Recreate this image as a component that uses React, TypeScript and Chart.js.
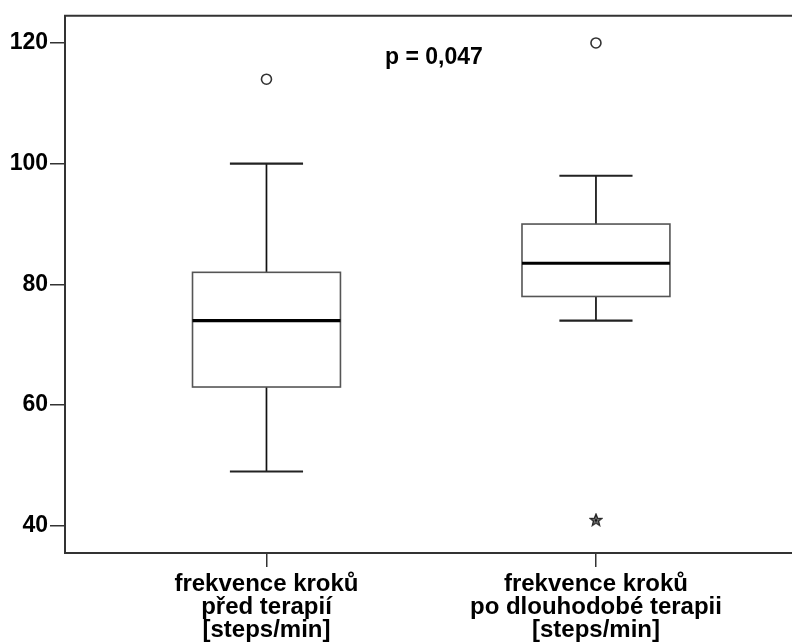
import React, { useEffect, useRef } from "react";
import { Chart, registerables } from "chart.js";

Chart.register(...registerables);

const categoryLabels: string[][] = [
  ["frekvence kroků", "před terapií", "[steps/min]"],
  ["frekvence kroků", "po dlouhodobé terapii", "[steps/min]"],
];
const categoryPositions = [1, 2];
const whiskerLow = [49, 74];
const quartile1 = [63, 78];
const medians = [74, 83.5];
const quartile3 = [82, 90];
const whiskerHigh = [100, 98];
const outlierValues = [[114], [120]];
const extremeValues: number[][] = [[], [41]];
const yTickValues = [40, 60, 80, 100, 120];
const pText = "p = 0,047";
const pPosition = { x: 1.508, y: 117.6 };

const FONT = "'Liberation Sans', Arial, sans-serif";

function makeStar(): HTMLCanvasElement {
  const c = document.createElement("canvas");
  const s = 14;
  c.width = s;
  c.height = s;
  const ctx = c.getContext("2d")!;
  const cx = s / 2, cy = s / 2 + 0.5, R = 6.2, r = 2.7;
  ctx.beginPath();
  for (let i = 0; i < 10; i++) {
    const ang = -Math.PI / 2 + (i * Math.PI) / 5;
    const rad = i % 2 === 0 ? R : r;
    const px = cx + rad * Math.cos(ang);
    const py = cy + rad * Math.sin(ang);
    if (i === 0) ctx.moveTo(px, py);
    else ctx.lineTo(px, py);
  }
  ctx.closePath();
  ctx.fillStyle = "#777";
  ctx.fill();
  ctx.strokeStyle = "#222";
  ctx.lineWidth = 1.3;
  ctx.stroke();
  ctx.fillStyle = "#111";
  ctx.beginPath();
  ctx.arc(cx, cy, 1.3, 0, Math.PI * 2);
  ctx.fill();
  return c;
}

const boxPlugin = {
  id: "boxPlugin",
  beforeDatasetsDraw(chart: any) {
    const { ctx, scales } = chart;
    const xs = scales.x, ys = scales.y;
    const unit = xs.getPixelForValue(2) - xs.getPixelForValue(1);
    const halfBox = unit * 0.2245;
    const halfCap = unit * 0.111;
    ctx.save();
    categoryPositions.forEach((pos, i) => {
      const cx = xs.getPixelForValue(pos);
      const yLo = ys.getPixelForValue(whiskerLow[i]);
      const yQ1 = ys.getPixelForValue(quartile1[i]);
      const yMed = ys.getPixelForValue(medians[i]);
      const yQ3 = ys.getPixelForValue(quartile3[i]);
      const yHi = ys.getPixelForValue(whiskerHigh[i]);
      ctx.strokeStyle = "#111";
      ctx.lineWidth = 1.7;
      ctx.beginPath();
      ctx.moveTo(cx, yQ3);
      ctx.lineTo(cx, yHi);
      ctx.moveTo(cx, yQ1);
      ctx.lineTo(cx, yLo);
      ctx.stroke();
      ctx.strokeStyle = "#222";
      ctx.lineWidth = 2.2;
      ctx.beginPath();
      ctx.moveTo(cx - halfCap, yHi);
      ctx.lineTo(cx + halfCap, yHi);
      ctx.moveTo(cx - halfCap, yLo);
      ctx.lineTo(cx + halfCap, yLo);
      ctx.stroke();
      ctx.fillStyle = "#fff";
      ctx.fillRect(cx - halfBox, yQ3, halfBox * 2, yQ1 - yQ3);
      ctx.strokeStyle = "#555";
      ctx.lineWidth = 1.6;
      ctx.strokeRect(cx - halfBox, yQ3, halfBox * 2, yQ1 - yQ3);
      ctx.strokeStyle = "#000";
      ctx.lineWidth = 3.2;
      ctx.beginPath();
      ctx.moveTo(cx - halfBox, yMed);
      ctx.lineTo(cx + halfBox, yMed);
      ctx.stroke();
    });
    ctx.fillStyle = "#000";
    ctx.font = `bold 23px ${FONT}`;
    ctx.textAlign = "center";
    ctx.textBaseline = "middle";
    ctx.fillText(pText, xs.getPixelForValue(pPosition.x), ys.getPixelForValue(pPosition.y));
    ctx.restore();
  },
  afterDraw(chart: any) {
    const { ctx, chartArea } = chart;
    ctx.save();
    ctx.strokeStyle = "#333";
    ctx.lineWidth = 2;
    ctx.beginPath();
    ctx.moveTo(chartArea.left - 1, chartArea.top);
    ctx.lineTo(chart.width, chartArea.top);
    ctx.stroke();
    ctx.restore();
  },
};

export default function App() {
  const ref = useRef<HTMLCanvasElement>(null);
  useEffect(() => {
    if (!ref.current) return;
    const star = makeStar();
    const outlierData: { x: number; y: number }[] = [];
    outlierValues.forEach((vals, i) => vals.forEach((v) => outlierData.push({ x: categoryPositions[i], y: v })));
    const extremeData: { x: number; y: number }[] = [];
    extremeValues.forEach((vals, i) => vals.forEach((v) => extremeData.push({ x: categoryPositions[i], y: v })));

    const chart = new Chart(ref.current, {
      type: "scatter",
      data: {
        datasets: [
          {
            data: outlierData,
            pointStyle: "circle",
            pointRadius: 5,
            pointBorderWidth: 1.6,
            borderColor: "#333",
            backgroundColor: "#fff",
          },
          {
            data: extremeData,
            pointStyle: star as any,
            pointRadius: 6,
            borderColor: "#333",
            backgroundColor: "#fff",
          },
        ],
      },
      options: {
        animation: false,
        responsive: false,
        maintainAspectRatio: false,
        layout: { autoPadding: false, padding: { top: 15, right: 0, left: 0, bottom: 0 } },
        plugins: { legend: { display: false }, tooltip: { enabled: false } },
        scales: {
          x: {
            type: "linear",
            min: 0.3885,
            max: 2.595,
            afterBuildTicks: (scale: any) => {
              scale.ticks = categoryPositions.map((v) => ({ value: v }));
            },
            afterFit: (scale: any) => {
              scale.height = 91;
            },
            ticks: {
              autoSkip: false,
              maxRotation: 0,
              padding: 6,
              color: "#000",
              font: { family: FONT, size: 24, weight: "bold", lineHeight: 0.96 },
              callback: (v: any) => {
                const idx = categoryPositions.indexOf(Number(v));
                return idx >= 0 ? categoryLabels[idx] : "";
              },
            },
            grid: { drawOnChartArea: false, drawTicks: true, tickLength: 14, color: "#333", lineWidth: 1.5 },
            border: { display: true, color: "#333", width: 2 },
          },
          y: {
            type: "linear",
            min: 35.5,
            max: 124.5,
            afterBuildTicks: (scale: any) => {
              scale.ticks = yTickValues.map((v) => ({ value: v }));
            },
            afterFit: (scale: any) => {
              scale.width = 65;
            },
            ticks: {
              padding: 2,
              color: "#000",
              font: { family: FONT, size: 23, weight: "bold" },
            },
            grid: { drawOnChartArea: false, drawTicks: true, tickLength: 15, color: "#333", lineWidth: 1.5 },
            border: { display: true, color: "#333", width: 2 },
          },
        },
      },
      plugins: [boxPlugin],
    });
    return () => chart.destroy();
  }, []);
  return (
    <div style={{ position: "fixed", left: 0, top: 0, width: 792, height: 644, background: "#fff" }}>
      <canvas ref={ref} width={792} height={644} style={{ width: 792, height: 644, display: "block" }} />
    </div>
  );
}
